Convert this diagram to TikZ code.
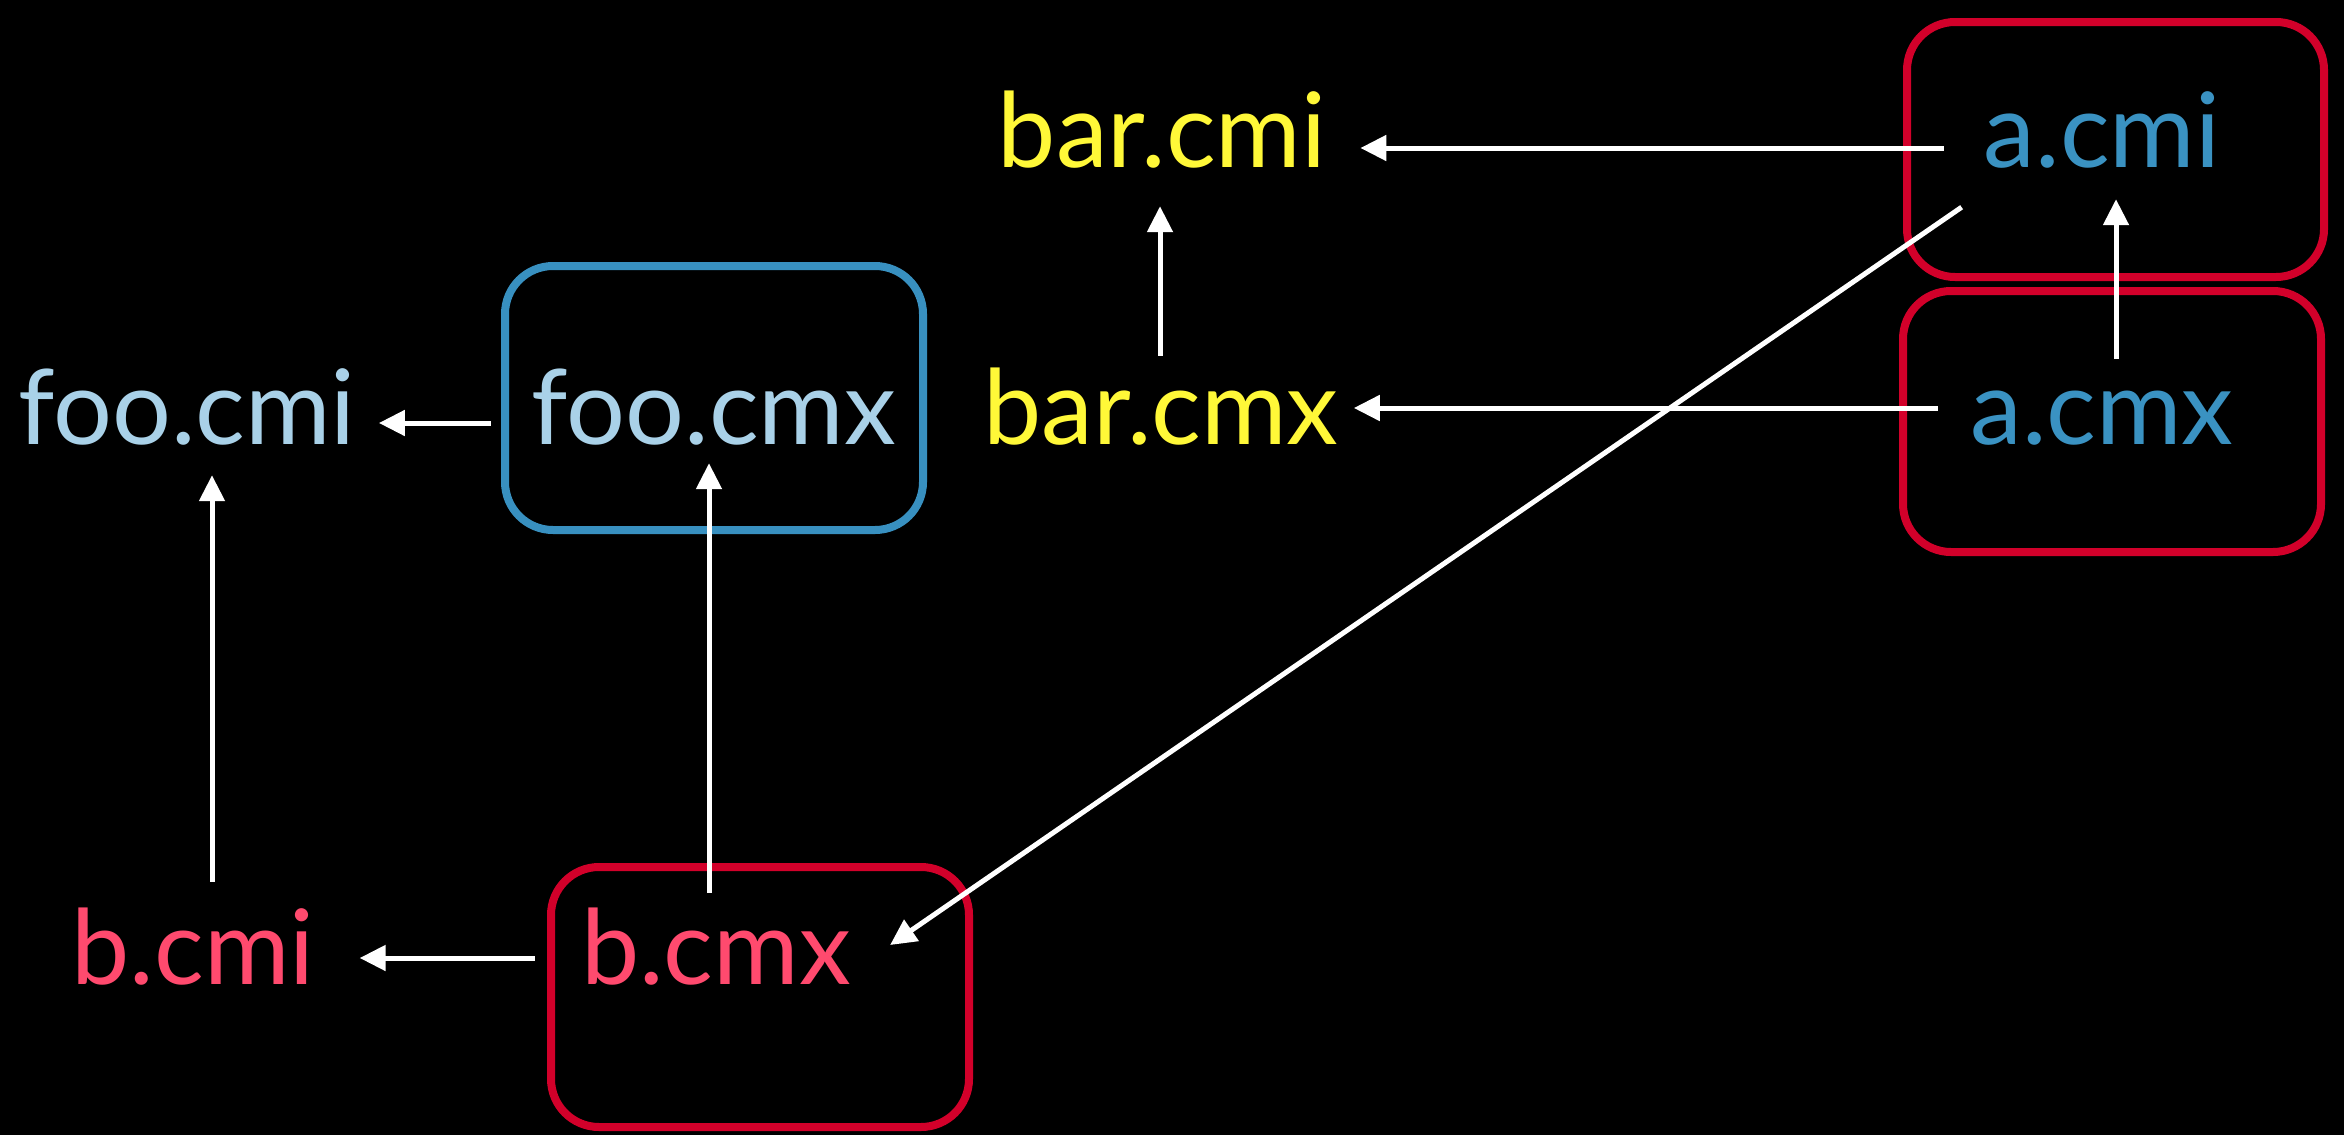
\documentclass[tikz,border=0pt]{standalone}
\usepackage{fontspec}
\setmainfont{Lato}
\usepackage{tikz}
\usetikzlibrary{calc}
\usetikzlibrary{arrows.meta}

\definecolor{fooblue}{HTML}{A9D1E8}
\definecolor{boxblue}{HTML}{3890C0}
\definecolor{baryellow}{HTML}{FFF838}
\definecolor{ablue}{HTML}{3A92C2}
\definecolor{boxred}{HTML}{D2002A}
\definecolor{bred}{HTML}{FF4A6E}

\begin{document}
\begin{tikzpicture}[x=1pt, y=-1pt,
    file/.style={inner sep=0pt, anchor=base, text height=85pt, text depth=0pt, font=\fontsize{104}{124}\selectfont},
    dep/.style={white, line width=5pt, -{Triangle[length=26pt,width=25pt]}},
    sketch/.style={line width=8pt, rounded corners=48pt}]

    \fill[black] (0,0) rectangle (2344,1135);
    \useasboundingbox (0,0) rectangle (2344,1135);

    % boxes round the .cmx groups
    \draw[sketch, boxblue] (505,266) rectangle (923,530);
    \draw[sketch, boxred] (1907,22) rectangle (2324,277);
    \draw[sketch, boxred] (1903,291) rectangle (2321,552);
    \draw[sketch, boxred] (551,867) rectangle (969,1127);

    \node[file, fooblue] (foocmi) at (187,444) {foo.cmi};
    \node[file, fooblue] (foocmx) at (714,444) {foo.cmx};
    \node[file, baryellow] (barcmi) at (1162,167) {bar.cmi};
    \node[file, baryellow] (barcmx) at (1161,444) {bar.cmx};
    \node[file, ablue] (acmi) at (2102,167) {a.cmi};
    \node[file, ablue] (acmx) at (2102,444) {a.cmx};
    \node[file, bred] (bcmi) at (193,984) {b.cmi};
    \node[file, bred] (bcmx) at (716,984) {b.cmx};

    % horizontal deps
    \draw[dep, shorten <=41pt, shorten >=23pt] ([yshift=21pt]foocmx.base west) -- ([yshift=21pt]foocmi.base east);
    \draw[dep, shorten <=46pt, shorten >=45pt] ([yshift=26pt]bcmx.base west) -- ([yshift=26pt]bcmi.base east);
    \draw[dep, shorten <=40pt, shorten >=34pt] ([yshift=19pt]acmi.base west) -- ([yshift=19pt]barcmi.base east);
    \draw[dep, shorten <=32pt, shorten >=15pt] ([yshift=36pt]acmx.base west) -- ([yshift=36pt]barcmx.base east);

    % vertical deps
    \draw[dep, shorten <=17pt, shorten >=31pt] ([xshift=19pt]bcmi.north) -- ([xshift=19pt]bcmi.north |- foocmi.south);
    \draw[dep, shorten <=6pt, shorten >=19pt] ([xshift=-7pt]bcmx.north) -- ([xshift=-7pt]bcmx.north |- foocmx.south);
    \draw[dep, shorten <=3pt, shorten >=39pt] ([xshift=-1pt]barcmx.north) -- ([xshift=-1pt]barcmx.north |- barcmi.south);
    \draw[dep, shorten >=32pt] ([xshift=14pt]acmx.north) -- ([xshift=14pt]acmx.north |- acmi.south);

    % a.cmi -> b.cmx
    \draw[dep] ([shift={(-22,40)}]acmi.south west) -- ([shift={(39,-39)}]bcmx.base east);

\end{tikzpicture}
\end{document}
